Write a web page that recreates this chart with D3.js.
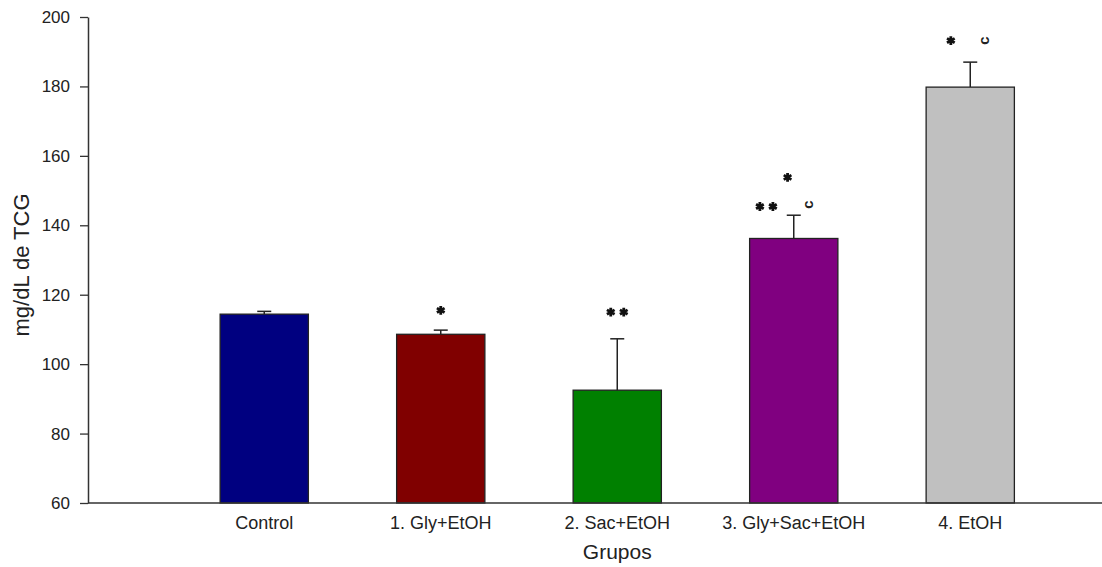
<!DOCTYPE html>
<html>
<head>
<meta charset="utf-8">
<script src="https://cdn.jsdelivr.net/npm/d3@7"></script>
<style>
  body { margin: 0; background: #fff; }
  text { font-family: "Liberation Sans", Arial, sans-serif; fill: #222; }
</style>
</head>
<body>
<svg id="chart" width="1102" height="567"></svg>
<script>
// data
var groups = ["Control", "1. Gly+EtOH", "2. Sac+EtOH", "3. Gly+Sac+EtOH", "4. EtOH"];
var means  = [114.4, 108.6, 92.5, 136.2, 179.8];
var errs   = [0.8, 1.2, 14.8, 6.7, 7.2];
var colors = ["#000080", "#800000", "#008000", "#800080", "#c0c0c0"];
var yTicks = [60, 80, 100, 120, 140, 160, 180, 200];

// significance marks: group index, symbol, level (mg/dL), shift in bar widths
var marks = [
  {g: 1, s: "*",  v: 115.5, dx: 0},
  {g: 2, s: "**", v: 115.0, dx: 0},
  {g: 3, s: "**", v: 145.4, dx: -0.31},
  {g: 3, s: "*",  v: 153.8, dx: -0.07},
  {g: 3, s: "c",  v: 146.0, dx: 0.16},
  {g: 4, s: "*",  v: 193.2, dx: -0.22},
  {g: 4, s: "c",  v: 193.2, dx: 0.15}
];

var svg = d3.select("#chart");
var W = 1102;
var mLeft = 88, mTop = 17, mBottom = 503;

var x = d3.scaleBand().domain(groups).range([176, 1058.5])
          .paddingInner(0.5).paddingOuter(0.25);
var y = d3.scaleLinear().domain([60, 200]).range([mBottom, mTop]);

// bars
svg.append("g").selectAll("rect")
  .data(groups).enter().append("rect")
  .attr("x", function(d){ return x(d); })
  .attr("y", function(d, i){ return y(means[i]); })
  .attr("width", x.bandwidth())
  .attr("height", function(d, i){ return y(60) - y(means[i]); })
  .attr("fill", function(d, i){ return colors[i]; })
  .attr("stroke", "#222")
  .attr("stroke-width", 1.3);

// upper error bars
var eb = svg.append("g").attr("stroke", "#222").attr("stroke-width", 1.5);
groups.forEach(function(g, i){
  var cx = x(g) + x.bandwidth() / 2;
  eb.append("line").attr("x1", cx).attr("x2", cx)
    .attr("y1", y(means[i])).attr("y2", y(means[i] + errs[i]));
  eb.append("line").attr("x1", cx - 7).attr("x2", cx + 7)
    .attr("y1", y(means[i] + errs[i])).attr("y2", y(means[i] + errs[i]));
});

// y axis
var yAxis = svg.append("g")
  .attr("transform", "translate(" + mLeft + ",0)")
  .call(d3.axisLeft(y).tickValues(yTicks).tickSize(8).tickSizeOuter(0).tickPadding(10));
yAxis.selectAll("line").attr("stroke", "#333").attr("stroke-width", 1.3);
yAxis.select(".domain").attr("stroke", "#333").attr("stroke-width", 1.5);
yAxis.selectAll("text").style("font-size", "17px")
  .style("font-family", "'Liberation Sans', Arial, sans-serif").attr("fill", "#222");

// x axis (line only, labels under the bars)
svg.append("line").attr("x1", mLeft).attr("x2", W)
  .attr("y1", mBottom).attr("y2", mBottom)
  .attr("stroke", "#333").attr("stroke-width", 1.5);

var xAxis = svg.append("g")
  .attr("transform", "translate(0," + mBottom + ")")
  .call(d3.axisBottom(x).tickSize(0).tickPadding(13));
xAxis.select(".domain").remove();
xAxis.selectAll("text").style("font-size", "18px")
  .style("font-family", "'Liberation Sans', Arial, sans-serif").attr("fill", "#222");

// axis titles
svg.append("text")
  .attr("transform", "translate(29," + 265 + ") rotate(-90)")
  .attr("text-anchor", "middle")
  .style("font-size", "22px")
  .text("mg/dL de TCG");

svg.append("text")
  .attr("x", x(groups[2]) + x.bandwidth() / 2)
  .attr("y", 559)
  .attr("text-anchor", "middle")
  .style("font-size", "21px")
  .text("Grupos");

// significance marks
var star = d3.symbol().type(d3.symbolAsterisk).size(55);
marks.forEach(function(m){
  var cx = x(groups[m.g]) + x.bandwidth() / 2 + m.dx * x.bandwidth();
  var cy = y(m.v);
  if (m.s === "c") {
    svg.append("text")
      .attr("transform", "translate(" + cx + "," + cy + ") rotate(-90)")
      .attr("text-anchor", "middle")
      .attr("dy", "0.35em")
      .style("font-size", "15px").style("font-weight", "bold")
      .text("c");
  } else {
    var n = m.s.length;
    for (var k = 0; k < n; k++) {
      var sx = cx + (k - (n - 1) / 2) * 13;
      svg.append("path").attr("d", star)
        .attr("transform", "translate(" + sx + "," + cy + ")")
        .attr("fill", "none")
        .attr("stroke", "#111")
        .attr("stroke-width", 2.8);
    }
  }
});
</script>
</body>
</html>
